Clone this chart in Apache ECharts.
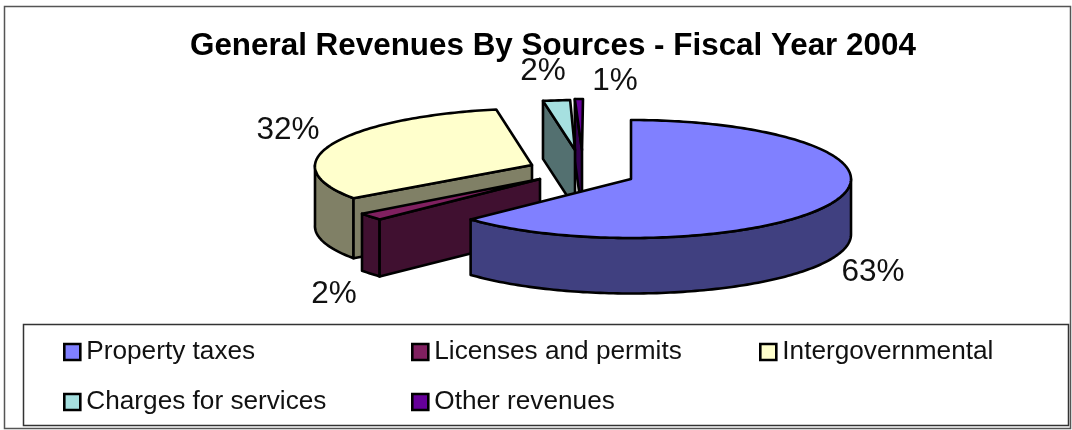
<!DOCTYPE html>
<html>
<head>
<meta charset="utf-8">
<style>html,body{margin:0;padding:0;background:#fff}#c{width:1072px;height:430px}</style>
<script src="https://cdn.jsdelivr.net/npm/echarts@6/dist/echarts.min.js"></script>
</head>
<body>
<div id="c"></div>
<script>
// Revenue shares, in percent, clockwise from twelve o'clock
const categories = ['Property taxes', 'Licenses and permits', 'Intergovernmental', 'Charges for services', 'Other revenues'];
const shares = [63, 2, 32, 2, 1];

// Top-face and side-face colours per slice
const topColors = ['#8080ff', '#802060', '#ffffcc', '#a6e0e0', '#660099'];
const sideColors = ['#404080', '#401030', '#808066', '#537070', '#330050'];

// Tilted-pie projection: shared centre, then per-slice explosion and foreshortening
const pieCenter = [586, 165];
const sliceShape = [
  { ox: 45, oy: 14, rx: 220, ry: 59, depth: 55.5, skew: 0 },
  { ox: -46, oy: 14, rx: 220, ry: 59, depth: 57, skew: 0 },
  { ox: -54, oy: 0, rx: 217, ry: 56.5, depth: 60, skew: 5 },
  { ox: -11, oy: -15, rx: 217, ry: 50, depth: 58, skew: 8.8 },
  { ox: -4, oy: -15, rx: 130, ry: 51, depth: 62, skew: 1 }
];
const labelSpots = [
  [873, 272], [334, 294], [288, 130], [543, 71], [615, 81]
];
const legendSpots = [
  [63, 339], [411, 339], [759, 339], [63, 389], [411, 389]
];

// Paint far slices first, the large front slice last
const drawOrder = [4, 3, 2, 1, 0];

const total = shares.reduce((a, b) => a + b, 0);
const startAngles = [];
shares.reduce((sum, v, i) => { startAngles[i] = sum / total * 2 * Math.PI; return sum + v; }, 0);

function rimPoint(s, a) {
  return [
    pieCenter[0] + s.ox + s.rx * Math.sin(a) + s.skew * Math.cos(a),
    pieCenter[1] + s.oy - s.ry * Math.cos(a)
  ];
}

function arcPoints(s, from, to) {
  const n = Math.max(2, Math.ceil((to - from) / 0.02));
  const pts = [];
  for (let k = 0; k <= n; k++) pts.push(rimPoint(s, from + (to - from) * k / n));
  return pts;
}

function face(points, fill) {
  return {
    type: 'polygon',
    shape: { points },
    style: { fill, stroke: '#000', lineWidth: 2.6, lineJoin: 'round' }
  };
}

function drawSlice(idx) {
  return function (params, api) {
    const value = api.value(0);
    const s = sliceShape[idx];
    const a0 = startAngles[idx];
    const a1 = a0 + value / total * 2 * Math.PI;
    const apex = [pieCenter[0] + s.ox, pieCenter[1] + s.oy];
    const children = [];
    const down = p => [p[0], p[1] + s.depth];

    // Curved wall: only the half of the rim that faces the viewer
    const wallFrom = Math.max(a0, Math.PI / 2);
    const wallTo = Math.min(a1, 1.5 * Math.PI);
    if (wallTo > wallFrom) {
      const arc = arcPoints(s, wallFrom, wallTo);
      children.push(face(arc.concat(arc.slice().reverse().map(down)), sideColors[idx]));
    }
    // Cut wall along the leading edge when it turns toward the viewer
    if (a0 > Math.PI) {
      const rim = rimPoint(s, a0);
      children.push(face([apex, rim, down(rim), down(apex)], sideColors[idx]));
    }
    // Top surface
    children.push(face([apex].concat(arcPoints(s, a0, a1)), topColors[idx]));
    // Percentage label
    children.push({
      type: 'text',
      z2: 10,
      style: {
        x: labelSpots[idx][0], y: labelSpots[idx][1],
        text: value + '%',
        fill: '#111',
        font: '31.5px "Liberation Sans", Arial, sans-serif',
        textAlign: 'center', textVerticalAlign: 'middle'
      }
    });
    return { type: 'group', children };
  };
}

const chart = echarts.init(document.getElementById('c'), null, { renderer: 'canvas' });
chart.setOption({
  animation: false,
  backgroundColor: '#fff',
  title: {
    text: 'General Revenues By Sources - Fiscal Year 2004',
    left: 190, top: 31, padding: 0,
    textStyle: { fontFamily: '"Liberation Sans", Arial, sans-serif', fontWeight: 'bold', fontSize: 31.4, color: '#000' }
  },
  legend: categories.map((name, i) => ({
    data: [name],
    left: legendSpots[i][0], top: legendSpots[i][1],
    padding: 0,
    itemWidth: 16, itemHeight: 16, itemGap: 0,
    icon: 'rect',
    selectedMode: false,
    itemStyle: { color: topColors[i], borderColor: '#000', borderWidth: 2.6 },
    textStyle: { fontFamily: '"Liberation Sans", Arial, sans-serif', fontSize: 26.2, color: '#111', padding: [2, 0, 0, 1] }
  })),
  graphic: [
    { type: 'rect', silent: true, z: -1, shape: { x: 4.5, y: 6.5, width: 1066, height: 422 },
      style: { fill: 'none', stroke: '#555', lineWidth: 1.5 } },
    { type: 'rect', silent: true, z: -1, shape: { x: 23.5, y: 324.5, width: 1045, height: 101 },
      style: { fill: '#fff', stroke: '#333', lineWidth: 1.5 } }
  ],
  series: drawOrder.map((i, order) => ({
    type: 'custom',
    name: categories[i],
    coordinateSystem: 'none',
    z: 2 + order,
    clip: false,
    itemStyle: { color: topColors[i] },
    renderItem: drawSlice(i),
    data: [[shares[i]]]
  }))
});
</script>
</body>
</html>
